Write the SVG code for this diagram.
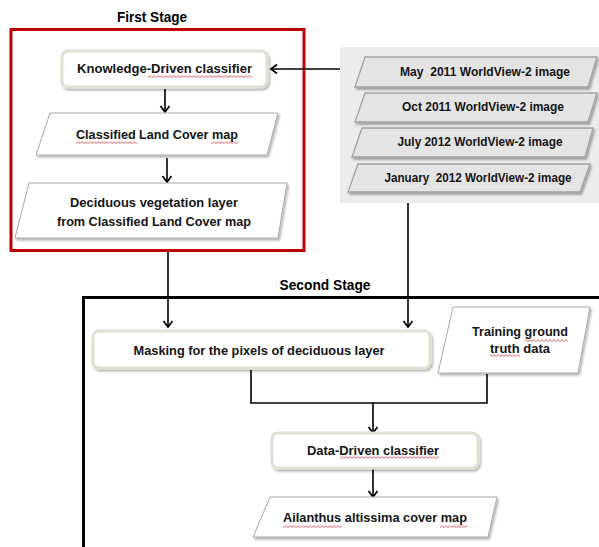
<svg xmlns="http://www.w3.org/2000/svg" width="599" height="547" viewBox="0 0 599 547">
<style>
text{font-family:"Liberation Sans",Arial,sans-serif;font-weight:bold;font-size:13.5px;fill:#141414;text-anchor:middle}
.title{font-size:14px;fill:#000}
.it{font-size:12.5px}
.rbox{fill:#fff;stroke:#e2dfd4;stroke-width:3;filter:url(#sh)}
.para{fill:#fff;stroke:#a8a8a8;stroke-width:1;filter:url(#sh)}
.img{fill:#e4e4e4;stroke:#a3a3a3;stroke-width:1.3;filter:url(#sh2)}
.ln{fill:none;stroke:#000;stroke-width:1.6}
.arr{marker-end:url(#ah)}
.sq{fill:url(#sq)}
</style>
<defs>
<filter id="sh" x="-10%" y="-20%" width="130%" height="150%"><feDropShadow dx="1.5" dy="2" stdDeviation="1.2" flood-color="#000" flood-opacity="0.3"/></filter>
<filter id="sh2" x="-10%" y="-20%" width="130%" height="150%"><feDropShadow dx="1.5" dy="2" stdDeviation="1.2" flood-color="#000" flood-opacity="0.35"/></filter>
<marker id="ah" markerWidth="12" markerHeight="12" refX="9" refY="5" orient="auto" markerUnits="userSpaceOnUse"><path d="M3,0.5 L9,5 L3,9.5" fill="none" stroke="#000" stroke-width="1.8"/></marker>
<pattern id="sq" width="4" height="3" patternUnits="userSpaceOnUse"><path d="M0,2.5 L2,0.7 L4,2.5" fill="none" stroke="#e04040" stroke-width="0.8"/></pattern>
</defs>

<rect x="340" y="47" width="259" height="156" fill="#ececec"/>

<g id="first-stage">
<rect x="11" y="29.5" width="293" height="221" fill="none" stroke="#c00000" stroke-width="3"/>
<text class="title" x="152" y="22" textLength="70" lengthAdjust="spacingAndGlyphs">First Stage</text>
</g>

<g id="second-stage">
<rect x="83.5" y="297.5" width="600" height="300" fill="none" stroke="#000" stroke-width="3"/>
<text class="title" x="325" y="290" textLength="91" lengthAdjust="spacingAndGlyphs">Second Stage</text>
</g>

<g id="connectors">
<path class="ln arr" d="M340,69 H271"/>
<path class="ln arr" d="M165,89 V112"/>
<path class="ln arr" d="M167,158 V182"/>
<path class="ln arr" d="M168,252 V327"/>
<path class="ln arr" d="M408,203 V327"/>
<path class="ln" d="M251,370 V403 H487 V374"/>
<path class="ln arr" d="M373,403 V433"/>
<path class="ln arr" d="M373,469 V497"/>
</g>

<g id="knowledge-classifier">
<rect class="rbox" x="62" y="51" width="205" height="36" rx="6"/>
<text x="164.5" y="73" textLength="175" lengthAdjust="spacingAndGlyphs">Knowledge-Driven classifier</text>
<rect class="sq" x="148" y="75" width="104" height="3"/>
</g>

<g id="classified-map">
<polygon class="para" points="50,113 278,113 267,155 36,155"/>
<text x="157" y="139" textLength="162" lengthAdjust="spacingAndGlyphs">Classified Land Cover map</text>
<rect class="sq" x="76" y="141" width="61" height="3"/>
<rect class="sq" x="211" y="141" width="27" height="3"/>
</g>

<g id="deciduous-layer">
<polygon class="para" points="29,183 287,183 278,238 15,238"/>
<text x="154" y="207" textLength="168" lengthAdjust="spacingAndGlyphs">Deciduous vegetation layer</text>
<text x="154" y="226" textLength="194" lengthAdjust="spacingAndGlyphs">from Classified Land Cover map</text>
</g>

<g id="may-2011">
<polygon class="img" points="365,57 597,57 588,87 355,87"/>
<text class="it" x="485" y="76" textLength="170" lengthAdjust="spacingAndGlyphs">May&#160; 2011 WorldView-2 image</text>
</g>
<g id="oct-2011">
<polygon class="img" points="365,93 597,93 588,122 355,122"/>
<text class="it" x="483" y="111" textLength="162" lengthAdjust="spacingAndGlyphs">Oct 2011 WorldView-2 image</text>
</g>
<g id="july-2012">
<polygon class="img" points="362,128 593,128 585,157 352,157"/>
<text class="it" x="480" y="146" textLength="165" lengthAdjust="spacingAndGlyphs">July 2012 WorldView-2 image</text>
</g>
<g id="january-2012">
<polygon class="img" points="358,164 590,164 580,192 348,192"/>
<text class="it" x="478" y="182" textLength="187" lengthAdjust="spacingAndGlyphs">January&#160; 2012 WorldView-2 image</text>
</g>

<g id="masking">
<rect class="rbox" x="93" y="331" width="337" height="37" rx="6"/>
<text x="259" y="355" textLength="251" lengthAdjust="spacingAndGlyphs">Masking for the pixels of deciduous layer</text>
</g>

<g id="training-data">
<polygon class="para" points="453,307 590,307 578,373 438,373"/>
<text x="520" y="336" textLength="96" lengthAdjust="spacingAndGlyphs">Training ground</text>
<text x="520" y="353" textLength="60" lengthAdjust="spacingAndGlyphs">truth data</text>
<rect class="sq" x="525" y="339" width="43" height="3"/>
<rect class="sq" x="490" y="354" width="30" height="3"/>
</g>

<g id="data-classifier">
<rect class="rbox" x="272" y="433" width="206" height="35" rx="6"/>
<text x="373" y="455" textLength="132" lengthAdjust="spacingAndGlyphs">Data-Driven classifier</text>
<rect class="sq" x="340" y="456" width="99" height="3"/>
</g>

<g id="ailanthus-map">
<polygon class="para" points="270,497 497,497 488,537 253,537"/>
<text x="375" y="522" textLength="184" lengthAdjust="spacingAndGlyphs">Ailanthus altissima cover map</text>
<rect class="sq" x="283" y="525" width="59" height="3"/>
<rect class="sq" x="440" y="525" width="27" height="3"/>
</g>
</svg>
